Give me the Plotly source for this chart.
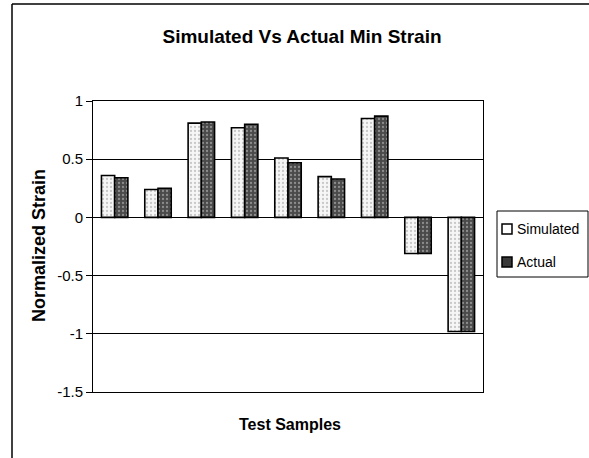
import plotly.graph_objects as go

# ---- data ----
samples = ["1", "2", "3", "4", "5", "6", "7", "8", "9"]
simulated = [0.36, 0.24, 0.81, 0.77, 0.51, 0.35, 0.85, -0.31, -0.98]
actual = [0.34, 0.25, 0.82, 0.80, 0.47, 0.33, 0.87, -0.31, -0.98]
series_names = ["Simulated", "Actual"]
y_ticks = [-1.5, -1, -0.5, 0, 0.5, 1]
y_ticktext = ["-1.5", "-1", "-0.5", "0", "0.5", "1"]

W, H = 589, 458
L, R, T, B = 93, 106, 101, 66
PW, PH = W - L - R, H - T - B

def px(x):
    return (x - L) / PW

def py(y):
    return (H - B - y) / PH

SANS = "Liberation Sans, Arial, sans-serif"

sim_style = dict(color="#f2f2f2",
                 pattern=dict(shape=".", fgcolor="#9a9a9a", bgcolor="#f6f6f6", size=4, solidity=0.25),
                 line=dict(color="black", width=1.6))
act_style = dict(color="#4d4d4d",
                 pattern=dict(shape=".", fgcolor="#cfcfcf", bgcolor="#4a4a4a", size=4, solidity=0.25),
                 line=dict(color="black", width=1.6))

fig = go.Figure()
fig.add_trace(go.Bar(x=samples, y=simulated, name=series_names[0], marker=sim_style))
fig.add_trace(go.Bar(x=samples, y=actual, name=series_names[1], marker=act_style))

fig.update_layout(
    width=W, height=H,
    margin=dict(l=L, r=R, t=T, b=B, pad=0),
    paper_bgcolor="white", plot_bgcolor="white",
    barmode="group", bargap=0.39, bargroupgap=0,
    showlegend=False,
    title=dict(text="<b>Simulated Vs Actual Min Strain</b>",
               font=dict(family=SANS, size=19, color="black"),
               x=302 / W, xref="container", xanchor="center",
               y=1 - 36 / H, yref="container", yanchor="middle"),
)

fig.update_xaxes(showticklabels=False, ticks="", showgrid=False,
                 showline=True, linecolor="black", linewidth=1, mirror=True,
                 zeroline=False)
fig.update_yaxes(range=[-1.5, 1], tickvals=y_ticks, ticktext=y_ticktext,
                 tickfont=dict(family=SANS, size=15, color="black"),
                 ticks="outside", ticklen=6, tickcolor="black",
                 showgrid=True, gridcolor="black", gridwidth=1,
                 zeroline=True, zerolinecolor="black", zerolinewidth=1,
                 showline=True, linecolor="black", linewidth=1, mirror=True)

annotations = [
    dict(text="<b>Test Samples</b>", x=px(290), y=py(424), xref="paper", yref="paper",
         showarrow=False, font=dict(family=SANS, size=16, color="black"),
         xanchor="center", yanchor="middle"),
    dict(text="<b>Normalized Strain</b>", x=px(39), y=py(246), xref="paper", yref="paper",
         showarrow=False, textangle=-90, font=dict(family=SANS, size=18, color="black"),
         xanchor="center", yanchor="middle"),
]

# legend box drawn by hand so the entries sit as tight as in the reference
shapes = [
    dict(type="rect", xref="paper", yref="paper", x0=px(497), x1=px(588), y0=py(277), y1=py(211),
         line=dict(color="black", width=1), fillcolor="white", layer="above"),
    # outer chart border (left and top)
    dict(type="line", xref="paper", yref="paper", x0=px(12), x1=px(12), y0=py(458), y1=py(4),
         line=dict(color="black", width=1.5)),
    dict(type="line", xref="paper", yref="paper", x0=px(12), x1=px(589), y0=py(4), y1=py(4),
         line=dict(color="black", width=1.5)),
]
legend_rows = [(series_names[0], 229, "white"), (series_names[1], 262, "#3a3a3a")]
for name, yc, fill in legend_rows:
    shapes.append(dict(type="rect", xref="paper", yref="paper",
                       x0=px(502), x1=px(512), y0=py(yc + 5), y1=py(yc - 5),
                       line=dict(color="black", width=1.5), fillcolor=fill, layer="above"))
    annotations.append(dict(text=name, x=px(515), y=py(yc), xref="paper", yref="paper",
                            showarrow=False, font=dict(family=SANS, size=14, color="black"),
                            xanchor="left", yanchor="middle"))

fig.update_layout(shapes=shapes, annotations=annotations)

fig.write_html("out.html", config={"displayModeBar": False},
               post_script="document.body.style.margin='0';")
